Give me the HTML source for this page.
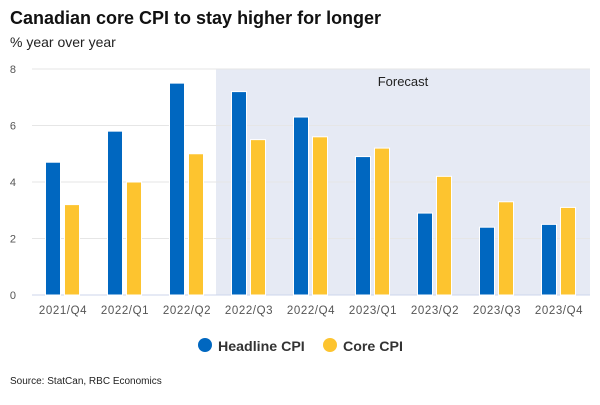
<!DOCTYPE html>
<html><head><meta charset="utf-8"><style>
body{margin:0;width:600px;height:400px;background:#fff;font-family:"Liberation Sans",sans-serif;overflow:hidden}
</style></head><body>
<svg width="600" height="400" font-family="Liberation Sans, sans-serif">
<text x="10" y="24" font-size="18" font-weight="bold" fill="#111">Canadian core CPI to stay higher for longer</text>
<text x="10" y="47" font-size="14" fill="#222">% year over year</text>
<g id="plot"></g>
<g>
<g><circle cx="205" cy="345" r="7" fill="#0067c0"/><text x="218" y="351" font-size="14.2" font-weight="bold" fill="#333">Headline CPI</text></g>
<g><circle cx="330" cy="345" r="7" fill="#fdc42f"/><text x="343" y="351" font-size="14.2" font-weight="bold" fill="#333">Core CPI</text></g>
</g>
<text x="10" y="384" font-size="10" fill="#222">Source: StatCan, RBC Economics</text>
</svg>
<script>
const categories=["2021/Q4","2022/Q1","2022/Q2","2022/Q3","2022/Q4","2023/Q1","2023/Q2","2023/Q3","2023/Q4"];
const headline=[4.7,5.8,7.5,7.2,6.3,4.9,2.9,2.4,2.5];
const core=[3.2,4.0,5.0,5.5,5.6,5.2,4.2,3.3,3.1];
const yTicks=[0,2,4,6,8];
const forecastStart=3;
const X0=32,X1=590,Y0=295,Y1=69,YMAX=8;
const bw=(X1-X0)/categories.length;
const y=v=>Y0-(v/YMAX)*(Y0-Y1);
const cx=i=>X0+bw*(i+0.5);
const ns="http://www.w3.org/2000/svg";
const g=document.getElementById('plot');
function mk(t,a){const e=document.createElementNS(ns,t);for(const k in a)e.setAttribute(k,a[k]);g.appendChild(e);return e;}
let e=mk('rect',{x:X0+bw*forecastStart-2,y:Y1,width:X1-(X0+bw*forecastStart-2),height:Y0-Y1,fill:'#e6eaf4'});


e=mk('text',{x:(X0+bw*forecastStart+X1)/2-1,y:86,'font-size':13,fill:'#222','text-anchor':'middle'});e.textContent='Forecast';


yTicks.forEach(t=>{
 const l=mk('line',{x1:X0,x2:X1,y1:y(t),y2:y(t),stroke:t===0?'#ccd6eb':'#e6e6e6','stroke-width':1});
 
 
 const tx=mk('text',{x:16,y:y(t)+4,'font-size':11,fill:'#555','text-anchor':'end'});tx.textContent=t;
 
 
});
categories.forEach((c,i)=>{
 const b=mk('rect',{x:cx(i)-17.5,y:y(headline[i]),width:15,height:Y0-y(headline[i]),fill:'#0067c0',stroke:'#fff','stroke-width':1});
 
 
 const b2=mk('rect',{x:cx(i)+1.5,y:y(core[i]),width:15,height:Y0-y(core[i]),fill:'#fdc42f',stroke:'#fff','stroke-width':1});
 
 
 const t=mk('text',{x:cx(i),y:314,'font-size':11.5,fill:'#555','text-anchor':'middle','letter-spacing':'0.6'});t.textContent=c;
 
 
});
</script>
</body></html>
